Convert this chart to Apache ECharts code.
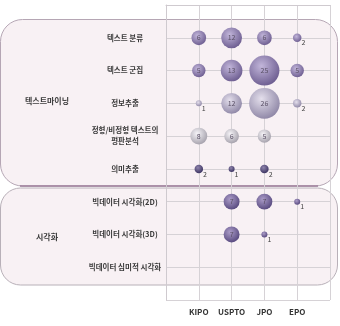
<!DOCTYPE html>
<html>
<head>
<meta charset="utf-8">
<script src="https://cdn.jsdelivr.net/npm/echarts@6/dist/echarts.min.js"></script>
<style>
  html, body { margin: 0; padding: 0; background: #fff; }
  #chart { width: 340px; height: 326px; }
</style>
</head>
<body>
<div id="chart"></div>
<script>
// 기관(열)과 기술(행)
const offices = ['KIPO', 'USPTO', 'JPO', 'EPO'];
const techs = [
  '텍스트 분류',
  '텍스트 군집',
  '정보추출',
  '정형/비정형 텍스트의\n평판분석',
  '의미추출',
  '빅데이터 시각화(2D)',
  '빅데이터 시각화(3D)',
  '빅데이터 심미적 시각화',
];
// 기관별 건수 (techs 순서)
const kipo = [6, 5, 1, 8, 2, null, null, null];
const uspto = [12, 13, 12, 6, 1, 7, 7, null];
const jpo = [6, 25, 26, 5, 2, 7, 1, null];
const epo = [2, 5, 2, null, null, 1, null, null];
const counts = [kipo, uspto, jpo, epo];

// 행별 색상 (안쪽, 바깥쪽)
const rowTones = [
  ['#c2b6da', '#6a5a8e'],
  ['#c2b6da', '#6a5a8e'],
  ['#e4dfec', '#8c84a4'],
  ['#f6f4f8', '#a19da8'],
  ['#8e84ac', '#3a3260'],
  ['#ab9cc8', '#54467c'],
  ['#ab9cc8', '#54467c'],
  ['#ab9cc8', '#54467c'],
];

const points = [];
counts.forEach((col, ci) => {
  col.forEach((v, ri) => {
    if (v == null) return;
    const tone = rowTones[ri];
    const big = v >= 5;
    points.push({
      value: [ci + 1, ri + 1, v],
      itemStyle: {
        color: {
          type: 'radial', x: 0.4, y: 0.35, r: 0.7,
          colorStops: [
            { offset: 0, color: tone[0] },
            { offset: 1, color: tone[1] },
          ],
        },
      },
      label: big
        ? { position: 'inside', color: '#5a5066' }
        : { position: 'right', distance: 0, offset: [0, 5], color: '#444' },
    });
  });
});

const chart = echarts.init(document.getElementById('chart'));
const font = '"Noto Sans CJK KR", sans-serif';
const option = {
  animation: false,
  textStyle: { fontFamily: font },
  graphic: [
    {
      type: 'rect', z: -10,
      shape: { x: 0.5, y: 19.5, width: 337, height: 166.5, r: 22 },
      style: { fill: '#f8f1f4', stroke: '#b5a6b4', lineWidth: 1 },
    },
    {
      type: 'line', z: -9,
      shape: { x1: 20, y1: 186, x2: 318, y2: 186 },
      style: { stroke: '#9c7c9a', lineWidth: 1.6 },
    },
    {
      type: 'rect', z: -10,
      shape: { x: 0.5, y: 188, width: 337, height: 97, r: 20 },
      style: { fill: '#f8f1f4', stroke: '#b8b0b8', lineWidth: 1 },
    },
    {
      type: 'text', z: 5, x: 47, y: 101,
      style: {
        text: '텍스트마이닝', font: 'bold 8px ' + font, fill: '#3a3a3a',
        align: 'center', verticalAlign: 'middle',
      },
    },
    {
      type: 'text', z: 5, x: 47, y: 237,
      style: {
        text: '시각화', font: 'bold 8px ' + font, fill: '#3a3a3a',
        align: 'center', verticalAlign: 'middle',
      },
    },
  ],
  grid: { left: 166, right: 10, top: 5, bottom: 26 },
  xAxis: {
    type: 'value',
    min: 0,
    max: 5,
    interval: 1,
    axisLine: { lineStyle: { color: '#cfcacf' } },
    axisTick: { show: false },
    splitLine: { lineStyle: { color: '#d6d2d6' } },
    axisLabel: {
      margin: 8,
      fontSize: 8,
      fontWeight: 'bold',
      color: '#333',
      formatter: (v) => offices[v - 1] || '',
    },
  },
  yAxis: {
    type: 'value',
    inverse: true,
    min: 0,
    max: 9,
    interval: 1,
    axisLine: { show: true, lineStyle: { color: '#cfcacf' } },
    axisTick: { show: false },
    splitLine: { lineStyle: { color: '#d6d2d6' } },
    axisLabel: {
      margin: 41,
      align: 'center',
      fontSize: 7.5,
      fontWeight: 'bold',
      lineHeight: 11,
      color: '#3a3a3a',
      formatter: (v) => techs[v - 1] || '',
    },
  },
  series: [
    {
      type: 'scatter',
      data: points,
      symbolSize: (val) => 6 * Math.sqrt(val[2]),
      label: {
        show: true,
        fontSize: 7,
        formatter: (p) => p.value[2],
      },
      itemStyle: { opacity: 1 },
    },
  ],
};
chart.setOption(option);
window.addEventListener('resize', () => {
  chart.resize();
});
</script>
</body>
</html>
